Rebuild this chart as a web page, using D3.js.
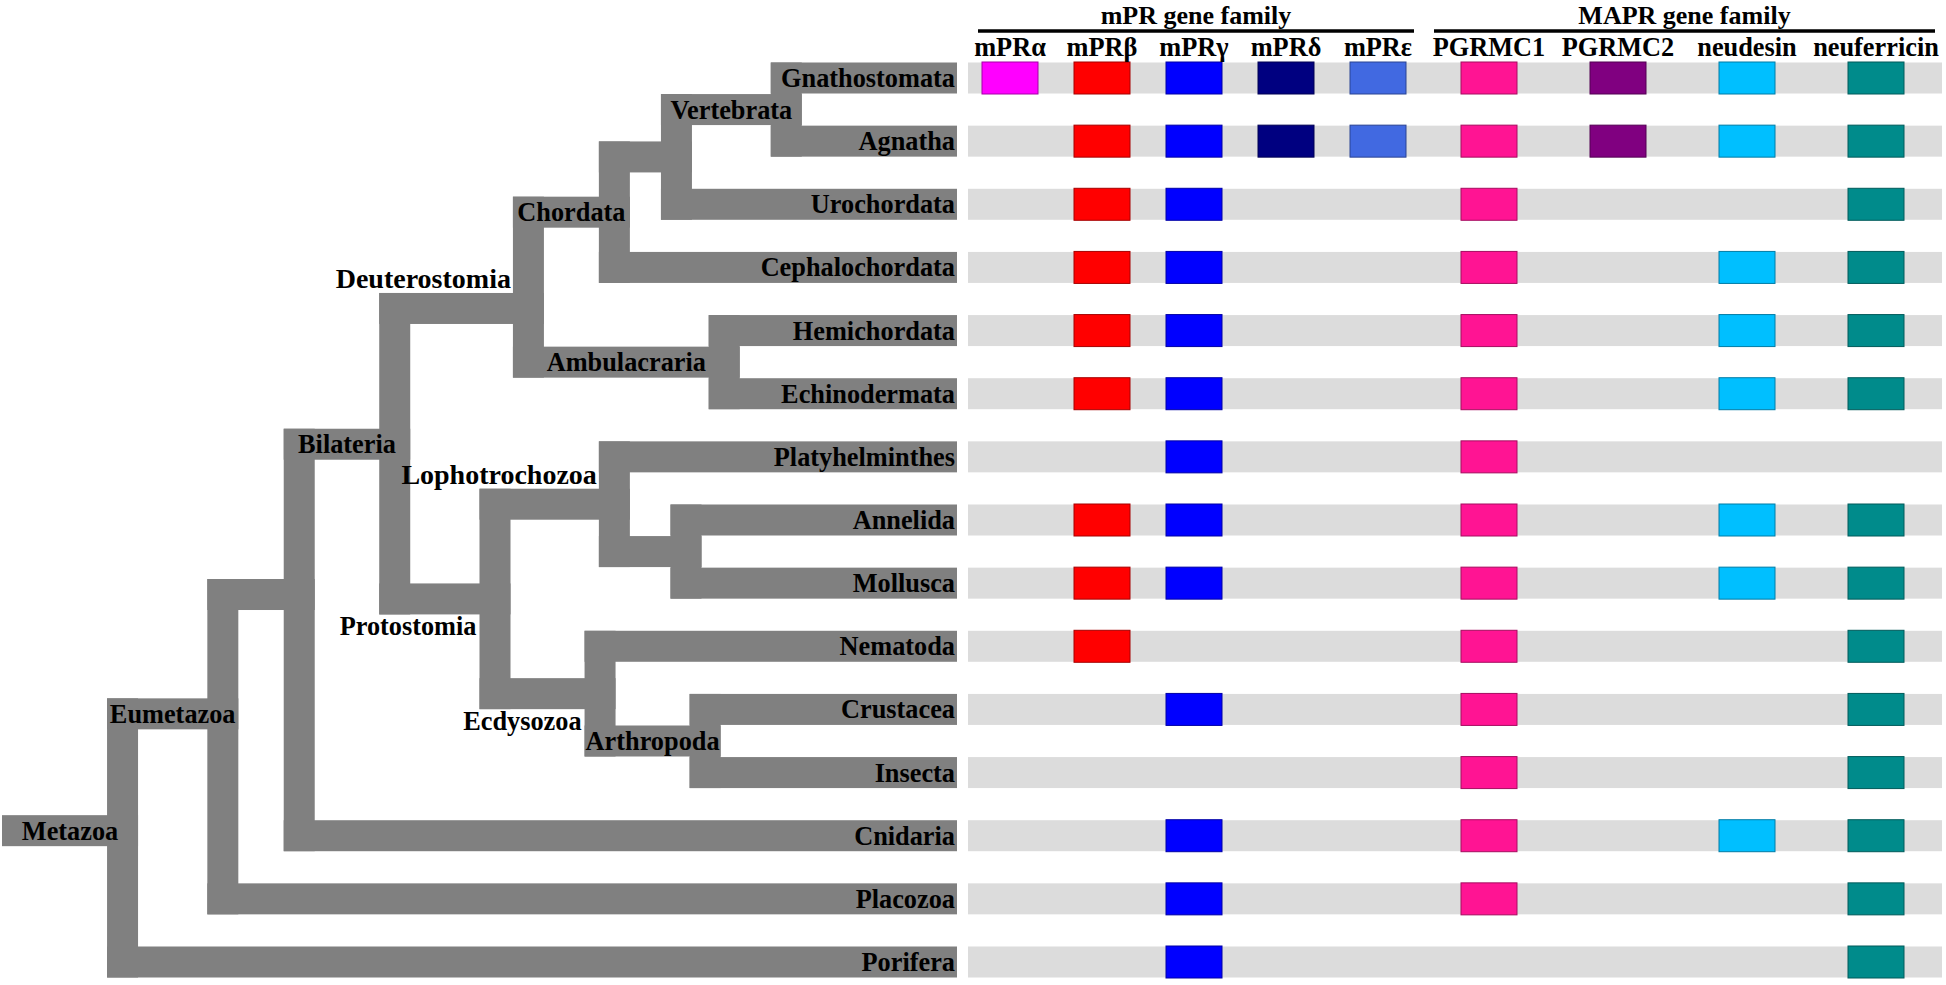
<!DOCTYPE html>
<html><head><meta charset="utf-8">
<script src="https://cdn.jsdelivr.net/npm/d3@7"></script>
<style>
body{margin:0;background:#fff}
svg{display:block}
text{font-family:"Liberation Serif","Times New Roman",serif;font-weight:bold;font-size:28px;fill:#000}
text.fam{font-size:26px}
</style>
</head><body><svg id="chart" width="1946" height="985"></svg>
<script>
// ---------- data ----------
const taxa = ["Gnathostomata","Agnatha","Urochordata","Cephalochordata","Hemichordata","Echinodermata",
  "Platyhelminthes","Annelida","Mollusca","Nematoda","Crustacea","Insecta","Cnidaria","Placozoa","Porifera"];
const mprGenes = ["mPRα","mPRβ","mPRγ","mPRδ","mPRε"];
const maprGenes = ["PGRMC1","PGRMC2","neudesin","neuferricin"];
const familyNames = ["mPR gene family","MAPR gene family"];
const geneColors = ["#ff00ff","#ff0000","#0000ff","#000080","#4169e1","#ff1493","#800080","#00bfff","#008b8b"];
// presence (1) / absence (0) per taxon, gene order: mPRα..mPRε, PGRMC1, PGRMC2, neudesin, neuferricin
const presence = [
  [1,1,1,1,1, 1,1,1,1], // Gnathostomata
  [0,1,1,1,1, 1,1,1,1], // Agnatha
  [0,1,1,0,0, 1,0,0,1], // Urochordata
  [0,1,1,0,0, 1,0,1,1], // Cephalochordata
  [0,1,1,0,0, 1,0,1,1], // Hemichordata
  [0,1,1,0,0, 1,0,1,1], // Echinodermata
  [0,0,1,0,0, 1,0,0,0], // Platyhelminthes
  [0,1,1,0,0, 1,0,1,1], // Annelida
  [0,1,1,0,0, 1,0,1,1], // Mollusca
  [0,1,0,0,0, 1,0,0,1], // Nematoda
  [0,0,1,0,0, 1,0,0,1], // Crustacea
  [0,0,0,0,0, 1,0,0,1], // Insecta
  [0,0,1,0,0, 1,0,1,1], // Cnidaria
  [0,0,1,0,0, 1,0,0,1], // Placozoa
  [0,0,1,0,0, 0,0,0,1]  // Porifera
];
// tree topology; depth = relative branching depth (0..100, leaves at 100);
// at = row index of a node where the drawing departs from the children's midpoint
const tree = {name:"Metazoa", depth:11, label:"in", at:11.92, children:[
  {name:"Eumetazoa", depth:21.5, label:"in", at:10.07, children:[
    {name:"", depth:29.5, at:8.18, children:[
      {name:"Bilateria", depth:39.5, label:"in", at:5.8, children:[
        {name:"Deuterostomia", depth:53.5, label:"above", at:3.65, children:[
          {name:"Chordata", depth:62.5, label:"in", children:[
            {name:"", depth:69, children:[
              {name:"Vertebrata", depth:80.5, label:"in", children:[{name:"Gnathostomata"},{name:"Agnatha"}]},
              {name:"Urochordata"}]},
            {name:"Cephalochordata"}]},
          {name:"Ambulacraria", depth:74, label:"in", children:[{name:"Hemichordata"},{name:"Echinodermata"}]}]},
        {name:"Protostomia", depth:50, label:"below", children:[
          {name:"Lophotrochozoa", depth:62.5, label:"above", children:[
            {name:"Platyhelminthes"},
            {name:"", depth:70, children:[{name:"Annelida"},{name:"Mollusca"}]}]},
          {name:"Ecdysozoa", depth:61, label:"below", children:[
            {name:"Nematoda"},
            {name:"Arthropoda", depth:72, label:"in", children:[{name:"Crustacea"},{name:"Insecta"}]}]}]}]},
      {name:"Cnidaria"}]},
    {name:"Placozoa"}]},
  {name:"Porifera"}]};

// ---------- layout ----------
const svg = d3.select("#chart");
const T = 31;           // branch / row thickness
const boxW = 56;
const y = d3.scalePoint().domain(taxa).range([78, 962]);
const rowY = d3.scaleLinear().domain([0, taxa.length - 1]).range([78, 962]);
const x = d3.scaleLinear().domain([0, 100]).range([2, 957]);
const xMpr = d3.scalePoint().domain(mprGenes).range([1010, 1378]);
const xMapr = d3.scalePoint().domain(maprGenes).range([1489, 1876]);
const allGenes = mprGenes.concat(maprGenes);
const geneX = g => mprGenes.includes(g) ? xMpr(g) : xMapr(g);
const color = d3.scaleOrdinal().domain(allGenes).range(geneColors);
const bandX0 = 968, bandX1 = 1942;
const SX = 0.94; // horizontal glyph scale (condensed look of the original)

function label(g, tx, ty, anchor, str, sx = SX) {
  return g.append("text").attr("transform", `translate(${tx},${ty}) scale(${sx},1)`)
    .attr("text-anchor", anchor).text(str);
}

// ---------- tree ----------
const root = d3.hierarchy(tree);
root.eachAfter(n => {
  if (!n.children) { n.py = y(n.data.name); n.px = x(100); }
  else {
    n.py = n.data.at != null ? rowY(n.data.at)
      : (n.children[0].py + n.children[n.children.length-1].py) / 2;
    n.px = x(n.data.depth);
  }
});
const gTree = svg.append("g").attr("fill", "#808080");
root.each(n => {
  const x0 = n.parent ? n.parent.px : x(0);
  const x1 = n.children ? n.px + T : n.px;
  gTree.append("rect").attr("x", x0).attr("y", n.py - T/2).attr("width", x1 - x0).attr("height", T);
  if (n.children) {
    const c0 = n.children[0], c1 = n.children[n.children.length-1];
    gTree.append("rect").attr("x", n.px).attr("y", c0.py - T/2)
      .attr("width", T).attr("height", c1.py - c0.py + T);
  }
});
const gLab = svg.append("g");
root.each(n => {
  if (!n.data.name) return;
  const x0 = n.parent ? n.parent.px : x(0);
  if (!n.children) label(gLab, n.px - 2, n.py + 9, "end", n.data.name);
  else if (n.data.label === "in") label(gLab, (x0 + n.px + T) / 2, n.py + 9, "middle", n.data.name);
  else if (n.data.label === "above") label(gLab, n.px - 2, n.py - T/2 - 5, "end", n.data.name, 1);
  else if (n.data.label === "below") label(gLab, n.px - 3, n.py + T/2 + 21, "end", n.data.name);
});

// ---------- gene table ----------
const gRows = svg.append("g");
gRows.selectAll("rect.band").data(taxa).join("rect").attr("class", "band")
  .attr("x", bandX0).attr("y", d => y(d) - T/2).attr("width", bandX1 - bandX0).attr("height", T)
  .attr("fill", "#dcdcdc");

const cells = [];
taxa.forEach((t, i) => allGenes.forEach((g, j) => { if (presence[i][j]) cells.push({t, g}); }));
gRows.selectAll("rect.cell").data(cells).join("rect").attr("class", "cell")
  .attr("x", d => geneX(d.g) - boxW/2).attr("y", d => y(d.t) - T/2 - 0.5)
  .attr("width", boxW).attr("height", T + 1)
  .attr("fill", d => color(d.g))
  .attr("stroke", d => d3.color(color(d.g)).darker(1.2))
  .attr("stroke-width", 1);

// column headers
const gCol = svg.append("g");
allGenes.forEach(g => label(gCol, geneX(g), 56, "middle", g));

// family headers
const famExtents = [
  [xMpr(mprGenes[0]) - 32, xMpr(mprGenes[mprGenes.length-1]) + 36],
  [xMapr(maprGenes[0]) - 55, xMapr(maprGenes[maprGenes.length-1]) + 59]
];
const gFam = svg.append("g");
familyNames.forEach((f, i) => {
  const [a, b] = famExtents[i];
  gFam.append("line").attr("x1", a).attr("x2", b).attr("y1", 31).attr("y2", 31)
    .attr("stroke", "#000").attr("stroke-width", 3.5);
  label(gFam, (a + b) / 2, 24, "middle", f, 1).attr("class", "fam");
});
</script>
</body></html>
